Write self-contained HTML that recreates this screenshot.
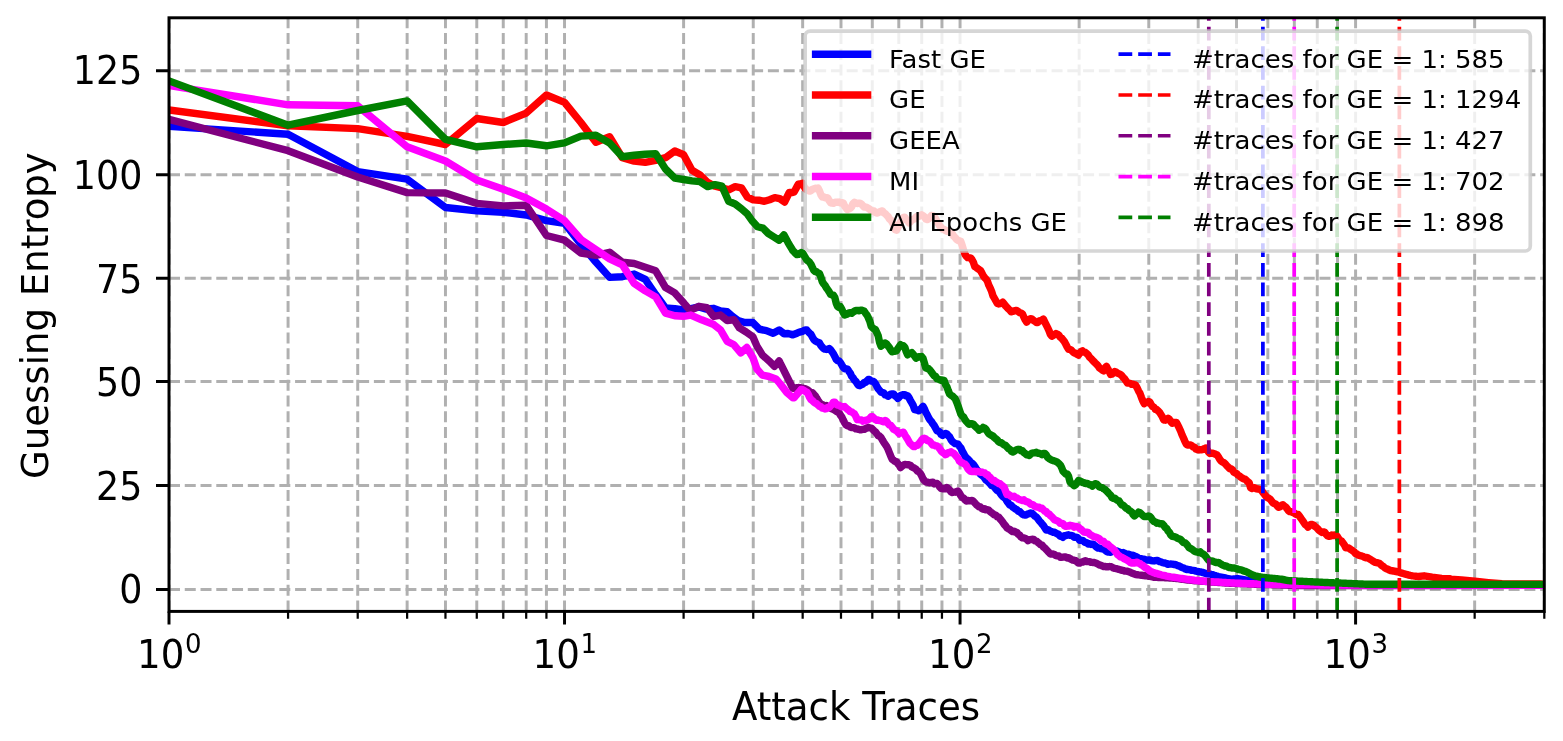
<!DOCTYPE html>
<html lang="en">
<head>
<meta charset="utf-8">
<title>Guessing Entropy vs Attack Traces</title>
<style>
html,body{margin:0;padding:0;background:#ffffff;}
body{width:1563px;height:741px;overflow:hidden;}
svg{display:block;}
svg text{font-family:"DejaVu Sans", "Liberation Sans", sans-serif;fill:#000000;}
.tk{font-size:37.15px;}
.lg{font-size:26px;}
</style>
</head>
<body>
<svg width="1563" height="741" viewBox="0 0 1563 741">
<defs><clipPath id="ax"><rect x="169" y="17.8" width="1375.3" height="593.6"/></clipPath></defs>
<rect x="0" y="0" width="1563" height="741" fill="#ffffff"/>
<g clip-path="url(#ax)" fill="none" stroke="#b0b0b0" stroke-width="2.97" stroke-dasharray="11 4.76">
<path d="M169 611.4V17.8M288.07 611.4V17.8M357.72 611.4V17.8M407.13 611.4V17.8M445.46 611.4V17.8M476.78 611.4V17.8M503.26 611.4V17.8M526.2 611.4V17.8M546.43 611.4V17.8M564.53 611.4V17.8M683.6 611.4V17.8M753.25 611.4V17.8M802.66 611.4V17.8M840.99 611.4V17.8M872.31 611.4V17.8M898.79 611.4V17.8M921.73 611.4V17.8M941.96 611.4V17.8M960.06 611.4V17.8M1079.13 611.4V17.8M1148.78 611.4V17.8M1198.19 611.4V17.8M1236.52 611.4V17.8M1267.84 611.4V17.8M1294.32 611.4V17.8M1317.26 611.4V17.8M1337.49 611.4V17.8M1355.59 611.4V17.8M1474.66 611.4V17.8M1544.31 611.4V17.8M169 589.4H1544.3M169 485.6H1544.3M169 381.6H1544.3M169 278.3H1544.3M169 174.8H1544.3M169 70.7H1544.3"/>
</g>
<g clip-path="url(#ax)" fill="none" stroke-width="7.43" stroke-linejoin="round" stroke-linecap="square">
<polyline points="169,126.4 288.07,134.2 357.72,171.6 407.13,179.2 445.46,207.5 476.78,210.9 503.26,212.2 526.2,215 546.43,220.6 564.53,223.3 580.9,244.2 595.85,262 609.6,277.4 622.33,276.7 634.18,274 645.27,279.4 655.68,294.5 665.5,308 674.79,308.6 683.37,309.96 692.15,308.34 698.89,306.99 705.64,309.01 713.74,308.34 720.49,311.04 727.23,311.71 732.63,316.44 738.03,320.49 744.78,322.51 752.87,322.51 759.62,329.26 766.37,330.61 773.12,333.31 779.19,329.93 784.05,333.74 788.1,333.47 790,334.01 791.4,334.42 792.8,334.86 794.2,334.3 795.6,333.73 797,333.19 798.4,332.5 799.8,332.05 801.2,331.67 802.6,331.34 804,330.58 805.4,330.06 806.8,330.02 808.2,331.74 809.6,333.19 811,334.4 812.4,337.07 813.8,339.49 815.2,340.84 816.6,341.74 818,342.18 819.4,342.9 820.8,345.36 822.2,347.05 823.6,348.62 825,349.2 826.4,349.45 827.8,349.24 829.2,348.6 830.6,349.86 832,351.68 833.4,353.82 834.8,356.45 836.2,359.43 837.6,360.61 839,360.91 840.4,362.56 841.8,364.92 843.2,367.15 844.6,368.67 846,368.76 847.4,369.09 848.8,371.18 850.2,373.09 851.6,376.3 853,377.79 854.4,380.07 855.8,381.28 857.2,383.58 858.6,385.34 860,385.65 861.4,384.58 862.8,384.16 864.2,382.54 865.6,382.39 867,381.01 868.4,379.39 869.8,379.86 871.2,381.05 872.6,381.17 874,381.87 875.4,383.61 876.8,386.31 878.2,388.81 879.6,390.4 881,392.09 882.4,392.53 883.8,393.08 885.2,394.95 886.6,395.19 888,396.22 889.4,395.36 890.8,394.07 892.2,393.86 893.6,393.87 895,395.85 896.4,396.73 897.8,398.4 899.2,397.17 900.6,395.55 902,395.07 903.4,394.68 904.8,394.62 906.2,395.83 907.6,395.72 909,397.72 910.4,400.52 911.8,402.82 913.2,405.31 914.6,409.67 916,409.93 917.4,409.86 918.8,410.78 920.2,409.43 921.6,408.02 923,406.37 924.4,408.82 925.8,412.32 927.2,414.75 928.6,417.75 930,419.97 931.4,421.44 932.8,423.69 934.2,425.57 935.6,428.06 937,430.68 938.4,431.2 939.8,432.12 941.2,434.5 942.6,435.42 944,434.32 945.4,433.5 946.8,433.81 948.2,435.61 949.6,436.83 951,439.71 952.4,441.58 953.8,442.67 955.2,443.63 956.6,443.83 958,444.21 959.4,446.31 960.8,447.74 962.2,451.01 963.6,453.33 965,456.09 966.4,457.81 967.8,459.05 969.2,460.36 970.6,462.49 972,463.16 973.4,464.46 974.8,466.35 976.2,468.8 977.6,470.53 979,471.72 980.4,474.23 981.8,475.2 983.2,476.26 984.6,478.07 986,480.04 987.4,480.93 988.8,482.23 990.2,483.88 991.6,485.53 993,485.99 994.4,487.06 995.8,488.91 997.2,490.45 998.6,491.17 1000,492.91 1001.4,495.04 1002.8,496.56 1004.2,497.64 1005.6,498.72 1007,501.4 1008.4,503.11 1009.8,505.08 1011.2,505.25 1012.6,507.02 1014,507.85 1015.4,509.09 1016.8,509.49 1018.2,511.26 1019.6,511.36 1021,512.76 1022.4,514.14 1023.8,514.84 1025.2,515.05 1026.6,514.78 1028,513.85 1029.4,513.57 1030.8,513.02 1032.2,513.4 1033.6,514.66 1035,516.23 1036.4,516.97 1037.8,518.71 1039.2,520.77 1040.6,522.22 1042,523.94 1043.4,525.53 1044.8,527.74 1046.2,529.93 1047.6,529.54 1049,530.21 1050.4,531.21 1051.8,531.62 1053.2,532.19 1054.6,532.28 1056,533.23 1057.4,533.87 1058.8,534.63 1060.2,536.18 1061.6,536.26 1063,537.35 1064.4,535.78 1065.8,535.57 1067.2,535.22 1068.6,534.84 1070,535.4 1071.4,535.36 1072.8,535.93 1074.2,537.2 1075.6,537.12 1077,537.34 1078.4,538.59 1079.8,540.4 1081.2,540.39 1082.6,540.35 1084,541.63 1085.4,542.41 1086.8,542.82 1088.2,544.11 1089.6,543.84 1091,544.43 1092.4,544.14 1093.8,544.6 1095.2,545.93 1096.6,547.13 1098,548.02 1099.4,548.01 1100.8,548.68 1102.2,548.93 1103.6,549.12 1105,550.04 1106.4,551.22 1107.8,552.06 1109.2,552.14 1110.6,552.34 1112,551.26 1113.4,550.46 1114.8,550.83 1116.2,551.04 1117.6,551.26 1119,551.9 1120.4,552.77 1121.8,552.84 1123.2,552.56 1124.6,553.26 1126,553.85 1127.4,554.21 1128.8,554.3 1130.2,554.7 1131.6,555.86 1133,555.33 1134.4,556.11 1135.8,556.56 1137.2,557.11 1138.6,558.44 1140,558.55 1141.4,558.62 1142.8,559.19 1144.2,559.1 1145.6,560.14 1147,560.09 1148.4,559.98 1149.8,559.89 1151.2,560.56 1152.6,560.77 1154,560.93 1155.4,560.61 1156.8,560.4 1158.2,560.86 1159.6,561.54 1161,561.8 1162.4,562.68 1163.8,562.95 1165.2,563.01 1166.6,563.65 1168,564.36 1169.4,564.14 1170.8,564.08 1172.2,564.11 1173.6,564.43 1175,564.44 1176.4,565.01 1177.8,565.69 1179.2,566 1180.6,566.73 1182,567.59 1183.4,567.81 1184.8,568.82 1186.2,569.42 1187.6,569.33 1189,569.59 1190.4,569.93 1191.8,570.35 1193.2,570.41 1194.6,570.67 1196,571.1 1197.4,571.4 1198.8,571.75 1200.2,571.86 1201.6,572.22 1203,572.47 1204.4,572.99 1205.8,573.48 1207.2,573.87 1208.6,574.1 1210,574.15 1211.4,574.43 1212.8,574.67 1214.2,575.18 1215.6,575.63 1217,576.15 1218.4,576.59 1219.8,576.9 1221.2,577.18 1222.6,577.43 1224,577.7 1225.4,577.99 1226.8,578.27 1228.2,578.55 1229.6,578.83 1231,579.11 1232.4,579.18 1233.8,579 1235.2,578.83 1236.6,578.65 1238,578.72 1239.4,578.95 1240.8,579.19 1242.2,579.42 1243.6,579.65 1245,579.89 1246.4,580.16 1247.8,580.44 1249.2,580.72 1250.6,581 1252,581.28 1253.4,581.48 1254.8,581.68 1256.2,581.88 1257.6,582.08 1259,582.28 1260.4,582.48 1261.8,582.66 1263.2,582.8 1264.6,582.94 1266,583.08 1267.4,583.22 1268.8,583.36 1270.2,583.5 1271.6,583.64 1273,583.78 1274.4,583.92 1275.8,584.02 1277.2,584.09 1278.6,584.16 1280,584.23 1281.4,584.3 1282.8,584.38 1284.2,584.45 1285.6,584.52 1287,584.59 1288.4,584.66 1289.8,584.68 1291.2,584.7 1292.6,584.72 1294,584.74 1295.4,584.76 1296.8,584.78 1298.2,584.8 1299.6,584.83 1301,584.85 1302.4,584.87 1303.8,584.89 1305.2,584.91 1306.6,584.93 1308,584.95 1309.4,584.97 1310.8,584.99 1312.2,585.01 1313.6,585.03 1315,585.05 1316.4,585.06 1317.8,585.07 1319.2,585.07 1320.6,585.07 1322,585.08 1323.4,585.08 1324.8,585.09 1326.2,585.09 1327.6,585.09 1329,585.1 1330.4,585.1 1331.8,585.11 1333.2,585.11 1334.6,585.11 1336,585.12 1337.4,585.12 1338.8,585.13 1340.2,585.13 1341.6,585.13 1343,585.14 1344.4,585.14 1345.8,585.15 1347.2,585.15 1348.6,585.15 1350,585.16 1351.4,585.16 1352.8,585.17 1354.2,585.17 1355.6,585.17 1357,585.18 1358.4,585.18 1359.8,585.19 1361.2,585.19 1362.6,585.19 1364,585.2 1365.4,585.2 1366.8,585.21 1368.2,585.21 1369.6,585.21 1371,585.22 1372.4,585.22 1373.8,585.23 1375.2,585.23 1376.6,585.23 1378,585.24 1379.4,585.24 1380.8,585.25 1382.2,585.25 1383.6,585.25 1385,585.26 1386.4,585.26 1387.8,585.27 1389.2,585.27 1390.6,585.27 1392,585.28 1393.4,585.28 1394.8,585.29 1396.2,585.29 1397.6,585.29 1399,585.3 1400.4,585.3 1401.8,585.3 1403.2,585.3 1404.6,585.3 1406,585.3 1407.4,585.3 1408.8,585.3 1410.2,585.3 1411.6,585.3 1413,585.3 1414.4,585.3 1415.8,585.3 1417.2,585.3 1418.6,585.3 1545,585.3" stroke="#0000ff"/>
<polyline points="169,109.9 288.07,125.7 357.72,128.6 407.13,136.4 445.46,144.5 476.78,118.5 503.26,122.5 526.2,113.1 546.43,95 564.53,102.4 580.9,122.5 595.85,142.2 609.6,136.8 622.33,157.7 634.18,161.1 645.27,162.4 655.68,160.4 665.5,157.7 674.79,151 683.6,154.7 691.98,170.2 699.97,175 707.6,182.4 714.91,186.2 721.93,187.8 728.66,189.8 735.15,186.7 741.39,187.8 747.42,197.2 753.25,199.9 758.88,200.2 764.33,201.3 769.62,199.7 774.75,197.6 779.73,198.6 784.56,202 789.27,192.5 790,192.5 791.4,192.51 792.8,192.53 794.2,191.82 795.6,189.18 797,186.66 798.4,184.22 799.8,183.99 801.2,183.64 802.6,183.23 804,186.53 805.4,188.86 806.8,189.54 808.2,190.57 809.6,191.15 811,190.72 812.4,189.31 813.8,188.99 815.2,188.29 816.6,188.46 818,188.07 819.4,190.77 820.8,194.56 822.2,197.05 823.6,196.83 825,197.82 826.4,197.76 827.8,198 829.2,200.63 830.6,202.69 832,203.16 833.4,203.29 834.8,202.45 836.2,202.14 837.6,202.31 839,202.09 840.4,203.06 841.8,202.68 843.2,202.88 844.6,205.93 846,207.84 847.4,209.53 848.8,209.08 850.2,208.32 851.6,206.96 853,203.5 854.4,202.33 855.8,203.11 857.2,203.52 858.6,203.22 860,203.11 861.4,204.03 862.8,205.62 864.2,207 865.6,207.1 867,207.58 868.4,208.38 869.8,209.37 871.2,210.69 872.6,211.21 874,211.05 875.4,212.61 876.8,213.1 878.2,212.72 879.6,211.74 881,211.32 882.4,210.89 883.8,212.9 885.2,213.53 886.6,215.27 888,216.34 889.4,218.88 890.8,220.05 892.2,221.98 893.6,224.8 895,229.53 896.4,230.15 897.8,227.67 899.2,224.62 900.6,221.82 902,219.32 903.4,217.45 904.8,217.24 906.2,219.6 907.6,220.38 909,222.87 910.4,221.77 911.8,220 913.2,219.4 914.6,218.76 916,216.97 917.4,216.25 918.8,216.42 920.2,215.53 921.6,214.84 923,215.7 924.4,216.88 925.8,219.11 927.2,219.62 928.6,218.94 930,217.2 931.4,215.47 932.8,215.66 934.2,216.63 935.6,218.6 937,221.54 938.4,223.87 939.8,226.09 941.2,227.47 942.6,229.11 944,229.32 945.4,230.54 946.8,231.24 948.2,230.58 949.6,231.3 951,233.24 952.4,233.86 953.8,236.26 955.2,237.58 956.6,239.33 958,240.55 959.4,240.75 960.8,241.43 962.2,245.42 963.6,250.35 965,254.31 966.4,256.36 967.8,257.68 969.2,257.83 970.6,257.94 972,259.67 973.4,262.24 974.8,266.55 976.2,267.4 977.6,268.58 979,269.58 980.4,270.38 981.8,272.9 983.2,275.68 984.6,277.56 986,279.02 987.4,281.07 988.8,285.22 990.2,288.07 991.6,291.34 993,295.81 994.4,298.25 995.8,300.79 997.2,303.3 998.6,303.93 1000,303.64 1001.4,303.26 1002.8,302.19 1004.2,304.03 1005.6,305.95 1007,307.37 1008.4,308.8 1009.8,310.15 1011.2,311.77 1012.6,311.47 1014,310.88 1015.4,310.57 1016.8,310.49 1018.2,311.46 1019.6,312.56 1021,312.96 1022.4,313.81 1023.8,316.91 1025.2,319.84 1026.6,322.09 1028,320.6 1029.4,319.34 1030.8,318.63 1032.2,319.26 1033.6,320.49 1035,321.33 1036.4,322.58 1037.8,322.48 1039.2,320.97 1040.6,320.65 1042,320.1 1043.4,319.09 1044.8,322.05 1046.2,324.9 1047.6,327.7 1049,330.66 1050.4,334.45 1051.8,336.16 1053.2,335.42 1054.6,334.52 1056,333.54 1057.4,334.25 1058.8,335.14 1060.2,337.26 1061.6,338.19 1063,339.94 1064.4,341.65 1065.8,344.21 1067.2,346.95 1068.6,349.2 1070,349.38 1071.4,350.25 1072.8,351.75 1074.2,352.98 1075.6,353.15 1077,354.24 1078.4,355.04 1079.8,353.01 1081.2,351.63 1082.6,350.89 1084,352.15 1085.4,352.45 1086.8,353.67 1088.2,355.01 1089.6,357.23 1091,358.46 1092.4,360.1 1093.8,361.5 1095.2,362.92 1096.6,364.18 1098,365.78 1099.4,367.84 1100.8,369.01 1102.2,369.97 1103.6,370.83 1105,367.97 1106.4,366.32 1107.8,368.94 1109.2,371.35 1110.6,374.42 1112,374.16 1113.4,372.79 1114.8,371.5 1116.2,372.19 1117.6,373.28 1119,373.71 1120.4,374.47 1121.8,375.61 1123.2,377.5 1124.6,378.77 1126,380.8 1127.4,382.99 1128.8,383.17 1130.2,383.38 1131.6,384.24 1133,384.15 1134.4,384.65 1135.8,385.39 1137.2,388.02 1138.6,391.07 1140,393.45 1141.4,397.32 1142.8,400.84 1144.2,403.66 1145.6,402.59 1147,402.46 1148.4,401.5 1149.8,402.02 1151.2,404.52 1152.6,406.52 1154,407.24 1155.4,409.32 1156.8,409.68 1158.2,411.02 1159.6,412.36 1161,414.63 1162.4,416.89 1163.8,420.05 1165.2,420.16 1166.6,419.17 1168,418.31 1169.4,419.33 1170.8,421.69 1172.2,423.15 1173.6,422.36 1175,422.68 1176.4,422.48 1177.8,425.07 1179.2,427.93 1180.6,431.01 1182,434.73 1183.4,437.79 1184.8,441.07 1186.2,443.98 1187.6,445.09 1189,444.97 1190.4,445.05 1191.8,445.63 1193.2,446.93 1194.6,447.35 1196,449.07 1197.4,449.65 1198.8,449.89 1200.2,449.63 1201.6,449.84 1203,449.38 1204.4,448.61 1205.8,448.08 1207.2,449.81 1208.6,452.23 1210,453.46 1211.4,453.16 1212.8,453.26 1214.2,453.73 1215.6,454.28 1217,454.94 1218.4,456.9 1219.8,459.32 1221.2,461.05 1222.6,462.17 1224,462.74 1225.4,464.02 1226.8,465.78 1228.2,467.02 1229.6,468.67 1231,468.7 1232.4,469.74 1233.8,472.08 1235.2,473.02 1236.6,473.46 1238,475.07 1239.4,475.87 1240.8,477.14 1242.2,478.01 1243.6,478.92 1245,479.21 1246.4,480.38 1247.8,481.78 1249.2,482.81 1250.6,487.87 1252,488.43 1253.4,487.97 1254.8,487.81 1256.2,488.85 1257.6,488.93 1259,489.2 1260.4,489.35 1261.8,490.81 1263.2,492.77 1264.6,494.65 1266,496.31 1267.4,497.64 1268.8,498.24 1270.2,499.23 1271.6,501.1 1273,502.86 1274.4,503.55 1275.8,504.21 1277.2,505.94 1278.6,507.36 1280,506.84 1281.4,505.55 1282.8,504.7 1284.2,506.07 1285.6,506.88 1287,508.66 1288.4,510.68 1289.8,511.65 1291.2,511.77 1292.6,512.54 1294,512.65 1295.4,513.92 1296.8,514.65 1298.2,514.53 1299.6,516.32 1301,518.41 1302.4,520.35 1303.8,522.42 1305.2,524.62 1306.6,525.43 1308,527.14 1309.4,525.49 1310.8,524.36 1312.2,524.49 1313.6,525.19 1315,526.5 1316.4,527.48 1317.8,528.94 1319.2,530.45 1320.6,531.45 1322,532.41 1323.4,531.86 1324.8,532.31 1326.2,534.36 1327.6,535.78 1329,536.4 1330.4,536.19 1331.8,534.93 1333.2,535.44 1334.6,535.01 1336,535.13 1337.4,536.56 1338.8,538.87 1340.2,540.32 1341.6,541.03 1343,543.06 1344.4,544.9 1345.8,547.78 1347.2,547.73 1348.6,547.9 1350,548.96 1351.4,549.82 1352.8,550.93 1354.2,551.83 1355.6,553.58 1357,554.06 1358.4,555.26 1359.8,555.38 1361.2,555.91 1362.6,556.27 1364,557.04 1365.4,557.67 1366.8,557.57 1368.2,558.08 1369.6,559.02 1371,559.78 1372.4,560.74 1373.8,561.61 1375.2,562.29 1376.6,562.58 1378,562.96 1379.4,563.26 1380.8,564.67 1382.2,565.83 1383.6,566.73 1385,567.94 1386.4,568.67 1387.8,569.14 1389.2,569.93 1390.6,570.49 1392,570.72 1393.4,570.97 1394.8,571.27 1396.2,571.5 1397.6,571.81 1399,572.24 1400.4,572.69 1401.8,573.12 1403.2,573.54 1404.6,573.98 1406,574.32 1407.4,574.68 1408.8,575.03 1410.2,575.4 1411.6,575.73 1413,575.92 1414.4,576.07 1415.8,576.21 1417.2,576.35 1418.6,576.48 1424.09,575.82 1432.19,577.17 1441.63,578.52 1450,578.79 1450.66,579.26 1461.46,579.93 1474.95,581.28 1488.45,582.63 1501.94,583.71 1540,583.98 1545,584.5" stroke="#ff0000"/>
<polyline points="169,119.4 288.07,150.7 357.72,177 407.13,192.6 445.46,193 476.78,203.4 503.26,205.9 526.2,205.3 546.43,235.5 564.53,240.2 580.9,253 595.85,255.4 609.6,252.3 622.33,262.2 634.18,263.5 645.27,267.2 655.68,270.8 665.5,287.5 674.79,292.9 683.6,302.7 685.4,304.97 690.12,310.36 698.89,306.32 706.99,307.67 713.74,316.44 720.49,315.09 727.23,320.49 733.98,319.81 739.38,327.91 746.13,331.96 752.87,336.68 756.92,346.13 762.32,354.9 769.07,360.97 774.47,366.37 779.19,360.97 780,362.7 785.4,373.5 790,382.7 791.4,385.5 792.8,388.32 794.2,388.27 795.6,388.01 797,387.79 798.4,387.55 799.8,387.64 801.2,388.11 802.6,388.21 804,388.59 805.4,388.73 806.8,389.44 808.2,390.35 809.6,391.55 811,392.41 812.4,392.73 813.8,394.31 815.2,395.77 816.6,398.1 818,400.27 819.4,402.3 820.8,404 822.2,404.51 823.6,405.32 825,405.8 826.4,405.59 827.8,406.77 829.2,407.16 830.6,408.13 832,408.8 833.4,409.47 834.8,410.19 836.2,411.15 837.6,411.93 839,412.78 840.4,415.11 841.8,416.93 843.2,420.05 844.6,422.73 846,424.78 847.4,425.8 848.8,425.76 850.2,427.05 851.6,427.62 853,427.63 854.4,427.94 855.8,428.87 857.2,428.96 858.6,429.32 860,429.8 861.4,429.77 862.8,429.4 864.2,429.38 865.6,428.61 867,427.96 868.4,427.31 869.8,427.91 871.2,428.07 872.6,429.34 874,430.74 875.4,431.84 876.8,433.7 878.2,435.77 879.6,436.18 881,437.49 882.4,440.1 883.8,442.33 885.2,444.31 886.6,446.3 888,449.1 889.4,452.73 890.8,456.17 892.2,459.27 893.6,460.15 895,461.44 896.4,461.66 897.8,463.63 899.2,465.08 900.6,467.55 902,466.32 903.4,465.33 904.8,464.36 906.2,464.63 907.6,464.71 909,464.77 910.4,465.42 911.8,466.89 913.2,467.53 914.6,468.31 916,469.19 917.4,471.08 918.8,471.71 920.2,473.2 921.6,475.69 923,478.83 924.4,480.48 925.8,481.98 927.2,482.1 928.6,482.54 930,482.69 931.4,482.45 932.8,482.28 934.2,483.88 935.6,483.35 937,483.47 938.4,484.76 939.8,487.11 941.2,488.38 942.6,488.78 944,488.43 945.4,488.84 946.8,487.53 948.2,488.57 949.6,489.91 951,491.87 952.4,492.51 953.8,492.13 955.2,492.16 956.6,491.49 958,491.09 959.4,493.15 960.8,495.65 962.2,497.36 963.6,498.07 965,499.81 966.4,501.06 967.8,500.46 969.2,500.76 970.6,500.61 972,500.42 973.4,501.39 974.8,502.79 976.2,504.51 977.6,505.65 979,506.76 980.4,506.97 981.8,508.42 983.2,509.15 984.6,508.65 986,509.82 987.4,509.63 988.8,510.25 990.2,511.7 991.6,512.67 993,513.7 994.4,514.95 995.8,515.23 997.2,516.9 998.6,516.87 1000,518.85 1001.4,520.33 1002.8,522.24 1004.2,524.37 1005.6,525.89 1007,527.84 1008.4,528.79 1009.8,529.43 1011.2,530.62 1012.6,531.58 1014,531.14 1015.4,532.13 1016.8,532.36 1018.2,534.21 1019.6,535.03 1021,536.96 1022.4,537.89 1023.8,537.99 1025.2,538.29 1026.6,539.26 1028,540.74 1029.4,539.75 1030.8,539.62 1032.2,539.2 1033.6,539.37 1035,540.87 1036.4,541.07 1037.8,542.38 1039.2,543.36 1040.6,544.68 1042,545.07 1043.4,546.93 1044.8,547.98 1046.2,549.52 1047.6,551 1049,552.57 1050.4,554.05 1051.8,554.11 1053.2,553.97 1054.6,554.68 1056,555.61 1057.4,555.87 1058.8,556.01 1060.2,557.26 1061.6,557.23 1063,557.11 1064.4,556.97 1065.8,556.97 1067.2,557.96 1068.6,557.79 1070,558.65 1071.4,559.39 1072.8,560.06 1074.2,560.29 1075.6,560.65 1077,561.79 1078.4,563.15 1079.8,563.13 1081.2,562.28 1082.6,562.13 1084,561.15 1085.4,560.65 1086.8,561.59 1088.2,561.66 1089.6,561.62 1091,562.28 1092.4,562.43 1093.8,562.44 1095.2,562.76 1096.6,563.42 1098,564.05 1099.4,565.05 1100.8,565.17 1102.2,565.93 1103.6,566.51 1105,566.49 1106.4,566.8 1107.8,566.78 1109.2,566.56 1110.6,566.59 1112,567.13 1113.4,567.95 1114.8,568.38 1116.2,568.57 1117.6,568.98 1119,569.46 1120.4,569.76 1121.8,570.32 1123.2,570.42 1124.6,570.98 1126,571.1 1127.4,571.28 1128.8,571.74 1130.2,572.27 1131.6,573.01 1133,573.53 1134.4,574.07 1135.8,574.6 1137.2,574.67 1138.6,574.9 1140,575.08 1141.4,575.22 1142.8,575.46 1144.2,575.52 1145.6,575.76 1147,575.92 1148.4,576.23 1149.8,576.44 1151.2,576.68 1152.6,576.97 1154,577.26 1155.4,577.34 1156.8,577.39 1158.2,577.45 1159.6,577.49 1161,577.55 1162.4,577.59 1163.8,577.66 1165.2,577.74 1166.6,577.81 1168,577.87 1169.4,577.94 1170.8,578.03 1172.2,578.15 1173.6,578.27 1175,578.39 1176.4,578.51 1177.8,578.63 1179.2,578.79 1180.6,579 1182,579.2 1183.4,579.41 1184.8,579.62 1186.2,579.83 1187.6,579.99 1189,580.13 1190.4,580.27 1191.8,580.4 1193.2,580.54 1194.6,580.68 1196,580.79 1197.4,580.89 1198.8,581 1200.2,581.1 1201.6,581.2 1203,581.31 1204.4,581.41 1205.8,581.51 1207.2,581.62 1208.6,581.72 1210,581.83 1211.4,581.93 1212.8,582.03 1214.2,582.14 1215.6,582.24 1217,582.34 1218.4,582.45 1219.8,582.55 1221.2,582.66 1222.6,582.76 1224,582.86 1225.4,582.97 1226.8,583.07 1228.2,583.14 1229.6,583.2 1231,583.26 1232.4,583.32 1233.8,583.39 1235.2,583.45 1236.6,583.51 1238,583.57 1239.4,583.63 1240.8,583.69 1242.2,583.75 1243.6,583.81 1245,583.86 1246.4,583.91 1247.8,583.96 1249.2,584.01 1250.6,584.06 1252,584.11 1253.4,584.16 1254.8,584.21 1256.2,584.26 1257.6,584.31 1259,584.36 1260.4,584.41 1261.8,584.45 1263.2,584.48 1264.6,584.52 1266,584.55 1267.4,584.59 1268.8,584.62 1270.2,584.66 1271.6,584.69 1273,584.73 1274.4,584.76 1275.8,584.8 1277.2,584.83 1278.6,584.87 1280,584.9 1281.4,584.95 1282.8,585 1284.2,585.05 1285.6,585.1 1287,585.15 1288.4,585.19 1289.8,585.24 1291.2,585.29 1292.6,585.34 1294,585.39 1295.4,585.44 1296.8,585.49 1298.2,585.54 1299.6,585.59 1301,585.6 1302.4,585.6 1303.8,585.6 1305.2,585.59 1306.6,585.59 1308,585.59 1309.4,585.59 1310.8,585.59 1312.2,585.59 1313.6,585.58 1315,585.58 1316.4,585.58 1317.8,585.58 1319.2,585.58 1320.6,585.57 1322,585.57 1323.4,585.57 1324.8,585.57 1326.2,585.57 1327.6,585.57 1329,585.56 1330.4,585.56 1331.8,585.56 1333.2,585.56 1334.6,585.56 1336,585.56 1337.4,585.55 1338.8,585.55 1340.2,585.55 1341.6,585.55 1343,585.55 1344.4,585.55 1345.8,585.54 1347.2,585.54 1348.6,585.54 1350,585.54 1351.4,585.54 1352.8,585.54 1354.2,585.53 1355.6,585.53 1357,585.53 1358.4,585.53 1359.8,585.53 1361.2,585.53 1362.6,585.52 1364,585.52 1365.4,585.52 1366.8,585.52 1368.2,585.52 1369.6,585.51 1371,585.51 1372.4,585.51 1373.8,585.51 1375.2,585.51 1376.6,585.51 1378,585.5 1379.4,585.5 1380.8,585.5 1382.2,585.5 1383.6,585.5 1385,585.5 1386.4,585.49 1387.8,585.49 1389.2,585.49 1390.6,585.49 1392,585.49 1393.4,585.49 1394.8,585.48 1396.2,585.48 1397.6,585.48 1399,585.48 1400.4,585.48 1401.8,585.48 1403.2,585.47 1404.6,585.47 1406,585.47 1407.4,585.47 1408.8,585.47 1410.2,585.47 1411.6,585.46 1413,585.46 1414.4,585.46 1415.8,585.46 1417.2,585.46 1418.6,585.45 1545,585.3" stroke="#800080"/>
<polyline points="169,85.6 288.07,104.8 357.72,105.8 407.13,146.8 445.46,161 476.78,180 503.26,189.3 526.2,198 546.43,209.1 564.53,220.6 580.9,239.5 595.85,249.6 609.6,258.8 622.33,264.8 634.18,283.4 645.27,290.9 655.68,296.9 665.5,313.1 674.79,315.8 683.6,316.3 690.8,315.09 701.59,319.81 713.74,324.53 720.49,329.93 727.23,341.4 733.98,344.78 740.73,352.87 746.8,347.48 752.87,357.6 756.92,369.07 762.32,375.14 769.07,376.49 775.95,378.89 780,383.62 786.75,392.39 790,395.31 791.4,396.57 792.8,397.85 794.2,397.73 795.6,396.01 797,394.31 798.4,392.78 799.8,391.19 801.2,389.43 802.6,389.71 804,390.5 805.4,391.56 806.8,392.1 808.2,394.31 809.6,397.33 811,399.7 812.4,400.59 813.8,402.05 815.2,403.15 816.6,403.72 818,404.95 819.4,406.23 820.8,406.79 822.2,408.11 823.6,408.29 825,409 826.4,408.63 827.8,407.43 829.2,407.46 830.6,405.66 832,404.59 833.4,402.23 834.8,402.2 836.2,403.86 837.6,405.01 839,405.26 840.4,406.19 841.8,406.82 843.2,406.62 844.6,406.59 846,408.05 847.4,409.29 848.8,410.14 850.2,411.67 851.6,411.83 853,413.08 854.4,413.81 855.8,416.27 857.2,419.7 858.6,419.45 860,419.9 861.4,419.98 862.8,421.19 864.2,420.47 865.6,420.69 867,420.01 868.4,419.5 869.8,418.39 871.2,416.77 872.6,416.81 874,418.2 875.4,419.51 876.8,420.39 878.2,420.04 879.6,420.65 881,420.75 882.4,421.49 883.8,421.83 885.2,420.47 886.6,421.36 888,423.44 889.4,424.96 890.8,425.36 892.2,427.27 893.6,429.23 895,429.97 896.4,430.77 897.8,432.12 899.2,433.6 900.6,432.85 902,432.54 903.4,432.2 904.8,434.85 906.2,437.1 907.6,439.18 909,441.8 910.4,443.83 911.8,445.07 913.2,446.47 914.6,446.65 916,445.49 917.4,445.35 918.8,443.88 920.2,442.11 921.6,440.14 923,438.63 924.4,438.24 925.8,438.9 927.2,440.57 928.6,440.78 930,441.7 931.4,443.32 932.8,445.08 934.2,444.96 935.6,445.92 937,446.03 938.4,447.06 939.8,448.8 941.2,451.04 942.6,452.46 944,453.23 945.4,454.74 946.8,454.06 948.2,452.79 949.6,452.58 951,451.71 952.4,452.94 953.8,453.32 955.2,454.98 956.6,456.73 958,458.15 959.4,461.01 960.8,462.14 962.2,462.8 963.6,463.53 965,464.17 966.4,465.84 967.8,468.61 969.2,470.11 970.6,471.31 972,471.43 973.4,471.56 974.8,471.29 976.2,471.73 977.6,471.52 979,471.78 980.4,472.17 981.8,472.09 983.2,472.54 984.6,472.9 986,474.28 987.4,474.54 988.8,476.48 990.2,477.41 991.6,479.24 993,480.46 994.4,480.56 995.8,481.78 997.2,482.56 998.6,483.53 1000,483.77 1001.4,485.06 1002.8,486.06 1004.2,487.48 1005.6,491.03 1007,494.5 1008.4,494.33 1009.8,495.28 1011.2,496.43 1012.6,496.64 1014,496.28 1015.4,497.61 1016.8,497.83 1018.2,499.07 1019.6,499.62 1021,500 1022.4,500.53 1023.8,499.73 1025.2,501.18 1026.6,501.58 1028,501.98 1029.4,503.04 1030.8,504.38 1032.2,504.37 1033.6,505.24 1035,506.48 1036.4,506.89 1037.8,507.3 1039.2,507.28 1040.6,508.53 1042,508.16 1043.4,509.66 1044.8,511.18 1046.2,511.59 1047.6,513.65 1049,513.85 1050.4,515.6 1051.8,516.83 1053.2,518.36 1054.6,519.75 1056,520.34 1057.4,520.98 1058.8,521.61 1060.2,523.33 1061.6,523.14 1063,523.65 1064.4,525.67 1065.8,526.4 1067.2,526.06 1068.6,526.13 1070,525.28 1071.4,525.73 1072.8,525.93 1074.2,527.11 1075.6,526.42 1077,526.69 1078.4,527.17 1079.8,528.57 1081.2,529.38 1082.6,530.78 1084,532.13 1085.4,532.24 1086.8,532.29 1088.2,532.39 1089.6,534.3 1091,535.08 1092.4,535.76 1093.8,536.73 1095.2,536.84 1096.6,537.41 1098,538.07 1099.4,538.83 1100.8,540.68 1102.2,541.06 1103.6,541.43 1105,543.31 1106.4,544.19 1107.8,544.21 1109.2,545.7 1110.6,546.94 1112,547.98 1113.4,549.16 1114.8,550.68 1116.2,552.59 1117.6,554.55 1119,555.67 1120.4,556.86 1121.8,557.27 1123.2,557.96 1124.6,559.04 1126,559.54 1127.4,560.42 1128.8,561.28 1130.2,562.47 1131.6,562.95 1133,562.78 1134.4,562.94 1135.8,562.42 1137.2,562.2 1138.6,563.24 1140,563.65 1141.4,564.88 1142.8,565.5 1144.2,566.9 1145.6,567.83 1147,568.58 1148.4,569.71 1149.8,570.86 1151.2,571.54 1152.6,572.16 1154,572.66 1155.4,573.26 1156.8,573.51 1158.2,574.02 1159.6,574.29 1161,574.75 1162.4,575.11 1163.8,575.37 1165.2,575.72 1166.6,576.07 1168,576.3 1169.4,576.57 1170.8,576.84 1172.2,577.06 1173.6,577.25 1175,577.46 1176.4,577.68 1177.8,577.88 1179.2,578.09 1180.6,578.3 1182,578.5 1183.4,578.71 1184.8,578.92 1186.2,579.13 1187.6,579.32 1189,579.51 1190.4,579.7 1191.8,579.89 1193.2,580.08 1194.6,580.27 1196,580.42 1197.4,580.56 1198.8,580.7 1200.2,580.83 1201.6,580.97 1203,581.11 1204.4,581.21 1205.8,581.31 1207.2,581.42 1208.6,581.52 1210,581.63 1211.4,581.72 1212.8,581.79 1214.2,581.86 1215.6,581.93 1217,582 1218.4,582.07 1219.8,582.15 1221.2,582.26 1222.6,582.36 1224,582.46 1225.4,582.57 1226.8,582.67 1228.2,582.75 1229.6,582.82 1231,582.89 1232.4,582.96 1233.8,583.03 1235.2,583.1 1236.6,583.15 1238,583.21 1239.4,583.27 1240.8,583.32 1242.2,583.38 1243.6,583.44 1245,583.5 1246.4,583.55 1247.8,583.61 1249.2,583.67 1250.6,583.72 1252,583.76 1253.4,583.8 1254.8,583.84 1256.2,583.89 1257.6,583.93 1259,583.97 1260.4,584.01 1261.8,584.05 1263.2,584.1 1264.6,584.14 1266,584.18 1267.4,584.22 1268.8,584.26 1270.2,584.3 1271.6,584.33 1273,584.35 1274.4,584.37 1275.8,584.4 1277.2,584.42 1278.6,584.44 1280,584.47 1281.4,584.49 1282.8,584.51 1284.2,584.54 1285.6,584.56 1287,584.58 1288.4,584.61 1289.8,584.63 1291.2,584.65 1292.6,584.68 1294,584.7 1295.4,584.72 1296.8,584.75 1298.2,584.77 1299.6,584.79 1301,584.81 1302.4,584.81 1303.8,584.82 1305.2,584.83 1306.6,584.84 1308,584.85 1309.4,584.86 1310.8,584.86 1312.2,584.87 1313.6,584.88 1315,584.89 1316.4,584.9 1317.8,584.91 1319.2,584.92 1320.6,584.92 1322,584.93 1323.4,584.94 1324.8,584.95 1326.2,584.96 1327.6,584.97 1329,584.97 1330.4,584.98 1331.8,584.99 1333.2,585 1334.6,585.01 1336,585.02 1337.4,585.02 1338.8,585.03 1340.2,585.04 1341.6,585.05 1343,585.06 1344.4,585.07 1345.8,585.07 1347.2,585.08 1348.6,585.09 1350,585.1 1351.4,585.1 1352.8,585.1 1354.2,585.1 1355.6,585.1 1357,585.1 1358.4,585.1 1359.8,585.11 1361.2,585.11 1362.6,585.11 1364,585.11 1365.4,585.11 1366.8,585.11 1368.2,585.11 1369.6,585.11 1371,585.11 1372.4,585.11 1373.8,585.11 1375.2,585.11 1376.6,585.11 1378,585.11 1379.4,585.12 1380.8,585.12 1382.2,585.12 1383.6,585.12 1385,585.12 1386.4,585.12 1387.8,585.12 1389.2,585.12 1390.6,585.12 1392,585.12 1393.4,585.12 1394.8,585.12 1396.2,585.12 1397.6,585.12 1399,585.13 1400.4,585.13 1401.8,585.13 1403.2,585.13 1404.6,585.13 1406,585.13 1407.4,585.13 1408.8,585.13 1410.2,585.13 1411.6,585.13 1413,585.13 1414.4,585.13 1415.8,585.13 1417.2,585.13 1418.6,585.14 1545,585.2" stroke="#ff00ff"/>
<polyline points="169,80.9 288.07,125.2 357.72,110.5 407.13,100.9 445.46,139.4 476.78,146.8 503.26,144.5 526.2,143 546.43,145.8 564.53,142.9 580.9,136.1 595.85,135.2 609.6,142.9 622.33,156.8 634.18,155.3 645.27,154.3 655.68,153.7 665.5,169 674.79,178.1 683.6,179.5 691.98,180.9 699.97,181.6 707.6,186.6 714.91,184.6 721.93,186.2 728.66,201.3 735.15,204 741.39,208.7 747.42,214.1 752.55,221.35 757.54,226.75 762.94,228.1 768.34,233.5 773.74,236.87 779.14,240.24 783.86,234.84 787.91,242.27 790,245.85 791.4,248.24 792.8,250.54 794.2,251.88 795.6,253.41 797,254.65 798.4,254.42 799.8,253.46 801.2,252.57 802.6,253.05 804,255.3 805.4,257.74 806.8,259.91 808.2,261.1 809.6,262.36 811,264.33 812.4,267.39 813.8,270.27 815.2,271.63 816.6,271.78 818,272.97 819.4,273.46 820.8,276.95 822.2,281.53 823.6,283.81 825,285.4 826.4,287.92 827.8,289.7 829.2,291.85 830.6,294.3 832,294.9 833.4,295.17 834.8,297.46 836.2,303.19 837.6,306.42 839,307.42 840.4,306.7 841.8,309.35 843.2,312.54 844.6,315.06 846,314.54 847.4,313.97 848.8,312.96 850.2,312.8 851.6,313.27 853,312.14 854.4,311.26 855.8,310.4 857.2,310.39 858.6,310.72 860,310.53 861.4,310.14 862.8,310.5 864.2,311.16 865.6,313.32 867,315.01 868.4,317.94 869.8,321.25 871.2,326.23 872.6,327.84 874,329.13 875.4,329.62 876.8,332.66 878.2,335.8 879.6,342.42 881,346.24 882.4,345.09 883.8,343.53 885.2,342.96 886.6,343.97 888,345.85 889.4,347.61 890.8,350.07 892.2,351.82 893.6,351.28 895,351.26 896.4,350.84 897.8,348.59 899.2,346.69 900.6,344.72 902,346 903.4,345.73 904.8,347.21 906.2,351.57 907.6,354.79 909,353.84 910.4,353.48 911.8,352.6 913.2,354.2 914.6,356.12 916,358.09 917.4,357.39 918.8,356.65 920.2,356.93 921.6,356.55 923,358.28 924.4,363.15 925.8,367.83 927.2,368.52 928.6,368.76 930,370.18 931.4,372.07 932.8,373.99 934.2,375.84 935.6,376.46 937,378.81 938.4,379.26 939.8,379.72 941.2,380.32 942.6,380.07 944,380.31 945.4,384.26 946.8,386.58 948.2,390.51 949.6,393.99 951,395.2 952.4,395.95 953.8,397.32 955.2,398.68 956.6,402.04 958,405.72 959.4,409.93 960.8,413.9 962.2,416.07 963.6,417.08 965,419.7 966.4,421.52 967.8,422.98 969.2,424.35 970.6,423.81 972,423.66 973.4,424.16 974.8,426.04 976.2,427.31 977.6,428.47 979,430.2 980.4,429.17 981.8,429.02 983.2,427.42 984.6,428.15 986,429.36 987.4,431.71 988.8,433.79 990.2,434.63 991.6,435.37 993,436.13 994.4,437.62 995.8,438.73 997.2,439.87 998.6,441.68 1000,442.57 1001.4,442.76 1002.8,443.93 1004.2,444.9 1005.6,445.38 1007,446.97 1008.4,448.57 1009.8,449.28 1011.2,451.08 1012.6,452.05 1014,451.38 1015.4,450.43 1016.8,449.59 1018.2,449.31 1019.6,449.5 1021,450.87 1022.4,450.67 1023.8,452.51 1025.2,453.55 1026.6,454.82 1028,454.93 1029.4,455.5 1030.8,453.81 1032.2,453.14 1033.6,452.9 1035,452.77 1036.4,452.29 1037.8,453.23 1039.2,453.32 1040.6,453.71 1042,454.66 1043.4,453.56 1044.8,453.48 1046.2,454.9 1047.6,457.31 1049,458.51 1050.4,459.37 1051.8,460.01 1053.2,460.63 1054.6,461.06 1056,461.5 1057.4,462.31 1058.8,463.54 1060.2,464.85 1061.6,467.5 1063,471.11 1064.4,472.54 1065.8,474.13 1067.2,473.9 1068.6,476.4 1070,481.82 1071.4,483.47 1072.8,484.37 1074.2,485.58 1075.6,484.62 1077,482.85 1078.4,480.57 1079.8,480.84 1081.2,481.51 1082.6,482.62 1084,482.8 1085.4,483.57 1086.8,483.4 1088.2,483.81 1089.6,484.8 1091,484.68 1092.4,486.07 1093.8,484.76 1095.2,483.68 1096.6,484.02 1098,485.37 1099.4,486.78 1100.8,487.43 1102.2,487.61 1103.6,488.8 1105,489.52 1106.4,490.9 1107.8,492.24 1109.2,493.84 1110.6,495.16 1112,497.63 1113.4,498.26 1114.8,498.16 1116.2,499.49 1117.6,500.47 1119,500.84 1120.4,503.2 1121.8,504.87 1123.2,505.33 1124.6,506.54 1126,508.24 1127.4,508.38 1128.8,510.1 1130.2,510.96 1131.6,511.93 1133,514.39 1134.4,515.85 1135.8,514.61 1137.2,513.71 1138.6,512.11 1140,512.65 1141.4,513.92 1142.8,515.42 1144.2,516.53 1145.6,516.61 1147,516.51 1148.4,516.01 1149.8,516.33 1151.2,517.99 1152.6,520.11 1154,521.49 1155.4,521.98 1156.8,523.16 1158.2,523.07 1159.6,523.86 1161,523.64 1162.4,523.96 1163.8,525.33 1165.2,527.44 1166.6,528.48 1168,530.89 1169.4,532.3 1170.8,535.05 1172.2,536.34 1173.6,536.49 1175,536.89 1176.4,537.46 1177.8,538.48 1179.2,538.85 1180.6,539.46 1182,541.06 1183.4,542.65 1184.8,542.66 1186.2,543.82 1187.6,545.5 1189,547.51 1190.4,548.41 1191.8,549.08 1193.2,550.23 1194.6,551.28 1196,551.86 1197.4,552.05 1198.8,552.62 1200.2,551.84 1201.6,553.3 1203,553.91 1204.4,555.02 1205.8,556.58 1207.2,558.4 1208.6,560.2 1210,560.83 1211.4,560.92 1212.8,561.2 1214.2,561.82 1215.6,562.59 1217,562.58 1218.4,562.39 1219.8,563.34 1221.2,564.32 1222.6,565.1 1224,565.65 1225.4,566.06 1226.8,566.21 1228.2,567.18 1229.6,567.57 1231,567.68 1232.4,568.04 1233.8,567.92 1235.2,568.17 1236.6,568.65 1238,569.27 1239.4,569.53 1240.8,569.8 1242.2,570.23 1243.6,570.98 1245,571.32 1246.4,571.82 1247.8,572.43 1249.2,573.21 1250.6,573.96 1252,574.69 1253.4,575.21 1254.8,575.89 1256.2,576.13 1257.6,576.45 1259,576.76 1260.4,577.02 1261.8,577.28 1263.2,577.42 1264.6,577.55 1266,577.69 1267.4,577.83 1268.8,577.97 1270.2,578.11 1271.6,578.25 1273,578.39 1274.4,578.53 1275.8,578.67 1277.2,578.81 1278.6,578.95 1280,579.09 1281.4,579.23 1282.8,579.48 1284.2,579.76 1285.6,580.04 1287,580.32 1288.4,580.6 1289.8,580.69 1291.2,580.77 1292.6,580.86 1294,580.94 1295.4,581.02 1296.8,581.07 1298.2,581.13 1299.6,581.19 1301,581.24 1302.4,581.3 1303.8,581.37 1305.2,581.44 1306.6,581.51 1308,581.59 1309.4,581.66 1310.8,581.73 1312.2,581.8 1313.6,581.87 1315,581.94 1316.4,582.01 1317.8,582.08 1319.2,582.15 1320.6,582.22 1322,582.29 1323.4,582.36 1324.8,582.42 1326.2,582.49 1327.6,582.56 1329,582.63 1330.4,582.68 1331.8,582.74 1333.2,582.79 1334.6,582.84 1336,582.89 1337.4,582.94 1338.8,583 1340.2,583.05 1341.6,583.11 1343,583.17 1344.4,583.24 1345.8,583.3 1347.2,583.36 1348.6,583.43 1350,583.49 1351.4,583.55 1352.8,583.61 1354.2,583.68 1355.6,583.74 1357,583.8 1358.4,583.86 1359.8,583.93 1361.2,583.99 1362.6,584.05 1364,584.12 1365.4,584.18 1366.8,584.24 1368.2,584.25 1369.6,584.25 1371,584.25 1372.4,584.25 1373.8,584.26 1375.2,584.26 1376.6,584.26 1378,584.26 1379.4,584.26 1380.8,584.26 1382.2,584.26 1383.6,584.26 1385,584.26 1386.4,584.27 1387.8,584.27 1389.2,584.27 1390.6,584.27 1392,584.27 1393.4,584.27 1394.8,584.27 1396.2,584.27 1397.6,584.27 1399,584.28 1400.4,584.28 1401.8,584.28 1403.2,584.28 1404.6,584.28 1406,584.28 1407.4,584.28 1408.8,584.28 1410.2,584.28 1411.6,584.29 1413,584.29 1414.4,584.29 1415.8,584.29 1417.2,584.29 1418.6,584.29 1540,584.39 1545,584.4" stroke="#008000"/>
</g>
<g clip-path="url(#ax)" fill="none" stroke-width="3.71" stroke-dasharray="13.75 5.94">
<path d="M1262.89 611.4V17.8" stroke="#0000ff"/>
<path d="M1399.36 611.4V17.8" stroke="#ff0000"/>
<path d="M1208.81 611.4V17.8" stroke="#800080"/>
<path d="M1294.21 611.4V17.8" stroke="#ff00ff"/>
<path d="M1337.11 611.4V17.8" stroke="#008000"/>
</g>
<path d="M169 611.4v13M564.53 611.4v13M960.06 611.4v13M1355.59 611.4v13M169 589.4h-13M169 485.6h-13M169 381.6h-13M169 278.3h-13M169 174.8h-13M169 70.7h-13" fill="none" stroke="#000000" stroke-width="2.97"/>
<path d="M288.07 611.4v7.43M357.72 611.4v7.43M407.13 611.4v7.43M445.46 611.4v7.43M476.78 611.4v7.43M503.26 611.4v7.43M526.2 611.4v7.43M546.43 611.4v7.43M683.6 611.4v7.43M753.25 611.4v7.43M802.66 611.4v7.43M840.99 611.4v7.43M872.31 611.4v7.43M898.79 611.4v7.43M921.73 611.4v7.43M941.96 611.4v7.43M1079.13 611.4v7.43M1148.78 611.4v7.43M1198.19 611.4v7.43M1236.52 611.4v7.43M1267.84 611.4v7.43M1294.32 611.4v7.43M1317.26 611.4v7.43M1337.49 611.4v7.43M1474.66 611.4v7.43M1544.31 611.4v7.43" fill="none" stroke="#000000" stroke-width="2.23"/>
<rect x="169" y="17.8" width="1375.3" height="593.6" fill="none" stroke="#000000" stroke-width="2.97" stroke-linejoin="miter"/>
<g class="tk">
<text transform="translate(142.4 603.4) scale(0.981 1.03)" text-anchor="end">0</text>
<text transform="translate(142.4 499.6) scale(0.981 1.03)" text-anchor="end">25</text>
<text transform="translate(142.4 395.6) scale(0.981 1.03)" text-anchor="end">50</text>
<text transform="translate(142.4 292.8) scale(0.981 1.03)" text-anchor="end">75</text>
<text transform="translate(142.4 188.8) scale(0.981 1.03)" text-anchor="end">100</text>
<text transform="translate(142.4 83.9) scale(0.981 1.03)" text-anchor="end">125</text>
<text transform="translate(137 667.6) scale(1 1.03)">10</text>
<text transform="translate(184.9 653)" font-size="26">0</text>
<text transform="translate(532.53 667.6) scale(1 1.03)">10</text>
<text transform="translate(580.43 653)" font-size="26">1</text>
<text transform="translate(928.06 667.6) scale(1 1.03)">10</text>
<text transform="translate(975.96 653)" font-size="26">2</text>
<text transform="translate(1323.59 667.6) scale(1 1.03)">10</text>
<text transform="translate(1371.49 653)" font-size="26">3</text>
<text transform="translate(856 719.8) scale(1 1.03)" text-anchor="middle">Attack Traces</text>
<text transform="translate(47.6 315.6) rotate(-90) scale(0.998 1.025)" text-anchor="middle">Guessing Entropy</text>
</g>
<rect x="805.1" y="31.1" width="725.2" height="219.9" rx="5" ry="5" fill="#ffffff" fill-opacity="0.8" stroke="#cccccc" stroke-opacity="0.8" stroke-width="3.71"/>
<g fill="none" stroke-width="7.43" stroke-linecap="square">
<path d="M815.6 54.2H867.6" stroke="#0000ff"/>
<path d="M815.6 94.98H867.6" stroke="#ff0000"/>
<path d="M815.6 135.76H867.6" stroke="#800080"/>
<path d="M815.6 176.54H867.6" stroke="#ff00ff"/>
<path d="M815.6 217.32H867.6" stroke="#008000"/>
</g>
<g fill="none" stroke-width="3.71" stroke-dasharray="13.75 5.94">
<path d="M1118.5 54.2H1170.5" stroke="#0000ff"/>
<path d="M1118.5 94.98H1170.5" stroke="#ff0000"/>
<path d="M1118.5 135.76H1170.5" stroke="#800080"/>
<path d="M1118.5 176.54H1170.5" stroke="#ff00ff"/>
<path d="M1118.5 217.32H1170.5" stroke="#008000"/>
</g>
<g class="lg">
<text transform="translate(889.1 67.5) scale(0.997 0.97)">Fast GE</text>
<text transform="translate(889.1 108.28) scale(0.997 0.97)">GE</text>
<text transform="translate(889.1 149.06) scale(0.997 0.97)">GEEA</text>
<text transform="translate(889.1 189.84) scale(0.997 0.97)">MI</text>
<text transform="translate(889.1 230.62) scale(0.997 0.97)">All Epochs GE</text>
<text transform="translate(1191.9 67.5) scale(1 0.97)">#traces for GE = 1: 585</text>
<text transform="translate(1191.9 108.28) scale(1 0.97)">#traces for GE = 1: 1294</text>
<text transform="translate(1191.9 149.06) scale(1 0.97)">#traces for GE = 1: 427</text>
<text transform="translate(1191.9 189.84) scale(1 0.97)">#traces for GE = 1: 702</text>
<text transform="translate(1191.9 230.62) scale(1 0.97)">#traces for GE = 1: 898</text>
</g>
</svg>
</body>
</html>
